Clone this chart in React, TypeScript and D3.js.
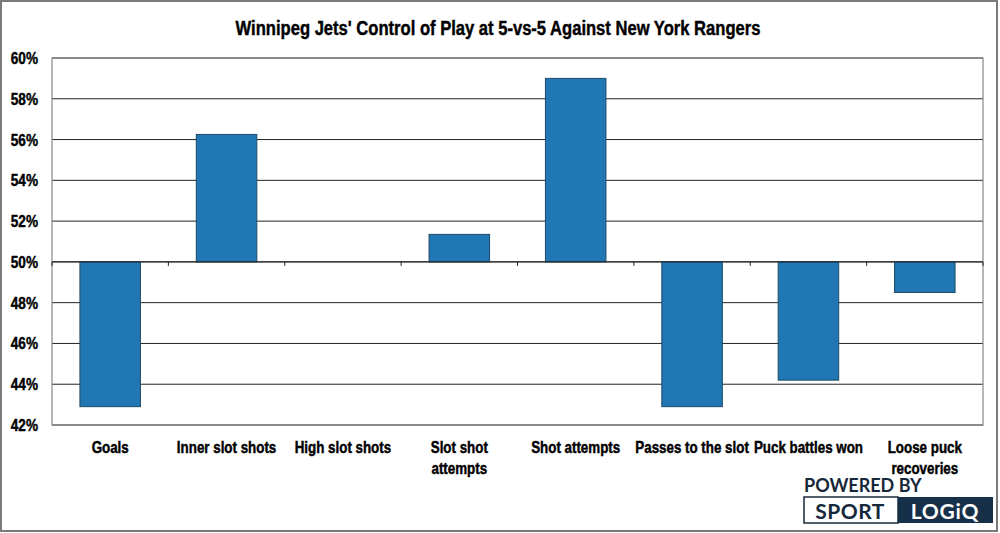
import React from "react";
import * as d3 from "d3";

const categories: string[][] = [
  ["Goals"],
  ["Inner slot shots"],
  ["High slot shots"],
  ["Slot shot", "attempts"],
  ["Shot attempts"],
  ["Passes to the slot"],
  ["Puck battles won"],
  ["Loose puck", "recoveries"],
];
const values: number[] = [42.9, 56.25, 50.0, 51.35, 59.0, 42.9, 44.2, 48.5];
const yTicks: number[] = [42, 44, 46, 48, 50, 52, 54, 56, 58, 60];
const title = "Winnipeg Jets' Control of Play at 5-vs-5 Against New York Rangers";

const W = 1000;
const H = 533;
const FONT = "'Liberation Sans', Arial, sans-serif";
const LOGO_FONT = "Lato, 'Open Sans', sans-serif";

function CText(props: {
  x: number;
  y: number;
  anchor?: "start" | "middle" | "end";
  size: number;
  sx?: number;
  children: React.ReactNode;
}) {
  const { x, y, anchor = "start", size, sx = 0.84, children } = props;
  return (
    <g transform={`translate(${x},${y}) scale(${sx},1)`}>
      <text
        x={0}
        y={0}
        textAnchor={anchor}
        fontFamily={FONT}
        fontWeight="bold"
        fontSize={size}
        fill="#000"
        stroke="#000"
        strokeWidth={0.45}
      >
        {children}
      </text>
    </g>
  );
}

export default function App() {
  const left = 52;
  const right = 983;
  const top = 58;
  const bottom = 425;
  const x = d3
    .scaleBand<number>()
    .domain(d3.range(categories.length))
    .range([left, right])
    .paddingInner(0.48)
    .paddingOuter(0.24);
  const y = d3.scaleLinear().domain([42, 60]).range([bottom, top]);
  const base = y(50);
  const boundaries = d3
    .range(categories.length + 1)
    .map((i) => left + ((right - left) * i) / categories.length);

  return (
    <svg
      width={W}
      height={H}
      style={{ position: "fixed", left: 0, top: 0, background: "#fff" }}
    >
      <rect x={1} y={1} width={996} height={530} fill="#fff" stroke="#7a7a7a" strokeWidth={2} />
      <CText x={498} y={35} anchor="middle" size={21} sx={0.79}>
        {title}
      </CText>
      {/* gridlines */}
      {yTicks.map((t) => (
        <line key={t} x1={left} x2={right} y1={y(t)} y2={y(t)} stroke="#222" strokeWidth={1} />
      ))}
      {/* plot border */}
      <rect
        x={left}
        y={top}
        width={right - left}
        height={bottom - top}
        fill="none"
        stroke="#888"
        strokeWidth={1.2}
      />
      {/* y labels */}
      {yTicks.map((t) => (
        <CText key={"l" + t} x={38} y={y(t) + 6} anchor="end" size={17} sx={0.8}>
          {t}%
        </CText>
      ))}
      {/* bars */}
      {values.map((v, i) => {
        const y0 = Math.min(y(v), base);
        const h = Math.abs(y(v) - base);
        if (h < 0.5) return null;
        return (
          <rect
            key={"b" + i}
            x={x(i)}
            y={y0}
            width={x.bandwidth()}
            height={h}
            fill="#2077b4"
            stroke="#1d4a66"
            strokeWidth={1}
          />
        );
      })}
      {/* category axis at 50% */}
      <line x1={left} x2={right} y1={base} y2={base} stroke="#222" strokeWidth={1} />
      {boundaries.map((bx, i) => (
        <line key={"t" + i} x1={bx} x2={bx} y1={base} y2={base + 4} stroke="#222" strokeWidth={1} />
      ))}
      {/* x labels */}
      {categories.map((lines, i) =>
        lines.map((ln, j) => (
          <CText
            key={"c" + i + "-" + j}
            x={(x(i) as number) + x.bandwidth() / 2}
            y={453 + j * 21}
            anchor="middle"
            size={16.5}
            sx={0.81}
          >
            {ln}
          </CText>
        ))
      )}
      {/* logo */}
      <text x={804} y={492} fontFamily={LOGO_FONT} fontWeight="bold" fontSize={18} fill="#17283b">
        POWERED BY
      </text>
      <rect x={804} y={497} width={94} height={26} fill="#fff" stroke="#17283b" strokeWidth={1.5} />
      <rect x={898} y={497} width={95} height={26} fill="#173049" />
      <text
        x={850}
        y={519}
        textAnchor="middle"
        fontFamily={LOGO_FONT}
        fontWeight="bold"
        fontSize={21}
        fill="#17283b"
        letterSpacing={0.5}
      >
        SPORT
      </text>
      <text
        x={945}
        y={519}
        textAnchor="middle"
        fontFamily={LOGO_FONT}
        fontWeight="bold"
        fontSize={21}
        fill="#fff"
        letterSpacing={0.8}
      >
        LOGiQ
      </text>
    </svg>
  );
}
